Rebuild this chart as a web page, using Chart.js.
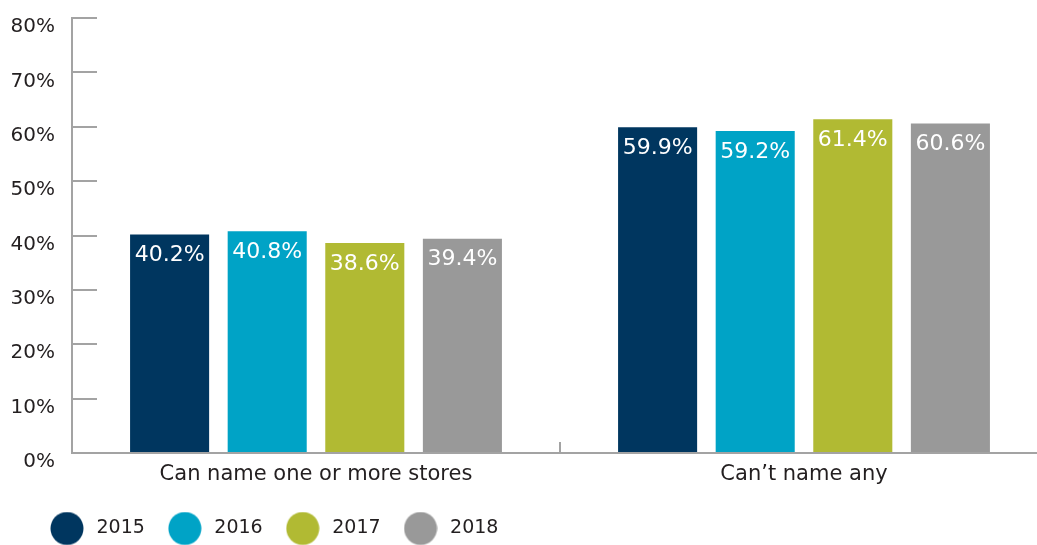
<!DOCTYPE html>
<html>
<head>
<meta charset="utf-8">
<script src="https://cdn.jsdelivr.net/npm/chart.js@4/dist/chart.umd.min.js"></script>
<style>
  html, body { margin: 0; padding: 0; background: #fff; overflow: hidden; }
  #wrap { position: relative; width: 1052px; height: 548px; }
</style>
</head>
<body>
<div id="wrap"><canvas id="chart"></canvas></div>
<script>
// Share of respondents who can name a store, by survey year
const categories = ['Can name one or more stores', 'Can\u2019t name any'];
const years = ['2015', '2016', '2017', '2018'];
const values2015 = [40.2, 59.9];
const values2016 = [40.8, 59.2];
const values2017 = [38.6, 61.4];
const values2018 = [39.4, 60.6];
const yTicks = [0, 10, 20, 30, 40, 50, 60, 70, 80];

const colors = ['#00365f', '#00a3c6', '#b1ba33', '#999999'];
const seriesValues = [values2015, values2016, values2017, values2018];
const FONT = "'DejaVu Sans', sans-serif";
const TEXT = '#231f20';
const AXIS = '#a3a3a3';

// Round legend markers
function dot(color) {
  const c = document.createElement('canvas');
  c.width = 34; c.height = 34;
  const g = c.getContext('2d');
  g.fillStyle = color;
  g.beginPath();
  g.arc(17, 17, 16.5, 0, Math.PI * 2);
  g.fill();
  return c;
}
const dots = colors.map(dot);

// White value labels near the top of each bar
const barValueLabels = {
  id: 'barValueLabels',
  afterDatasetsDraw(chart) {
    const ctx = chart.ctx;
    ctx.save();
    ctx.fillStyle = '#ffffff';
    ctx.font = '22px ' + FONT;
    ctx.textAlign = 'center';
    ctx.textBaseline = 'middle';
    chart.data.datasets.forEach((ds, i) => {
      chart.getDatasetMeta(i).data.forEach((bar, j) => {
        ctx.fillText(ds.data[j].toFixed(1) + '%', bar.x, bar.y + 21);
      });
    });
    ctx.restore();
  }
};

// Indent the legend row a little from the left edge
const legendIndent = {
  id: 'legendIndent',
  afterLayout(chart) {
    if (chart.legend) chart.legend.left = 27;
  }
};

new Chart(document.getElementById('chart'), {
  type: 'bar',
  data: {
    labels: categories,
    datasets: years.map((y, i) => ({
      label: y,
      data: seriesValues[i],
      backgroundColor: colors[i],
      borderWidth: 0,
      barPercentage: 0.81,
      categoryPercentage: 0.8
    }))
  },
  options: {
    responsive: true,
    maintainAspectRatio: false,
    animation: false,
    devicePixelRatio: 1,
    layout: { padding: { left: 0, right: 4, top: 18, bottom: 0 } },
    plugins: {
      tooltip: { enabled: false },
      legend: {
        position: 'bottom',
        align: 'start',
        labels: {
          usePointStyle: true,
          pointStyleWidth: 40,
          padding: 20,
          color: TEXT,
          font: { family: FONT, size: 19 },
          generateLabels(chart) {
            const items = Chart.defaults.plugins.legend.labels.generateLabels(chart);
            items.forEach((it, i) => { it.pointStyle = dots[i]; });
            return items;
          }
        }
      }
    },
    scales: {
      x: {
        grid: {
          display: true,
          drawOnChartArea: false,
          drawTicks: true,
          tickLength: -11,
          color: AXIS,
          lineWidth: 2
        },
        border: { display: true, color: AXIS, width: 2 },
        ticks: { color: TEXT, font: { family: FONT, size: 21 }, padding: 20 },
        afterFit(scale) { scale.height = 46; }
      },
      y: {
        min: 0,
        max: 80,
        afterBuildTicks(scale) { scale.ticks = yTicks.map(v => ({ value: v })); },
        grid: {
          display: true,
          drawOnChartArea: false,
          drawTicks: true,
          tickLength: -25,
          color: AXIS,
          lineWidth: 2
        },
        border: { display: true, color: AXIS, width: 2 },
        ticks: {
          color: TEXT,
          font: { family: FONT, size: 20 },
          padding: 42,
          labelOffset: 9,
          callback: v => v + '%'
        },
        afterFit(scale) {
          scale.width = 72;
          scale.paddingTop = 0;
          scale.paddingBottom = 0;
        }
      }
    }
  },
  plugins: [barValueLabels, legendIndent]
});
</script>
</body>
</html>
